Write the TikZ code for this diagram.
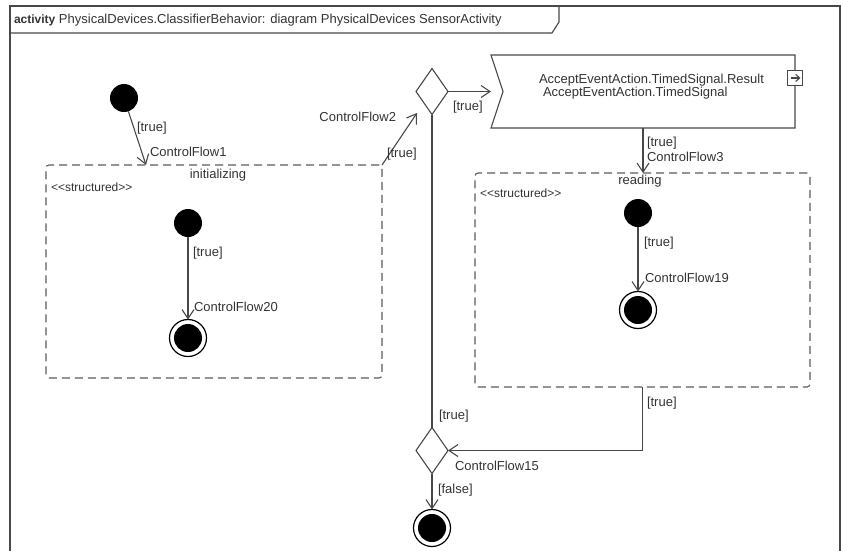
\documentclass[tikz,border=0pt]{standalone}
\usepackage{fontspec}
\setmainfont{Liberation Sans}
\newfontfamily\rawsans{Liberation Sans}
\usetikzlibrary{shapes.geometric,arrows.meta}
\definecolor{ln}{HTML}{484848}
\definecolor{dl}{HTML}{5A5A5A}
\definecolor{tx}{HTML}{333333}
\begin{document}
\begin{tikzpicture}[x=1pt,y=-1pt,
  every node/.style={inner sep=0pt, outer sep=0pt},
  lbl/.style={text=tx, font=\fontsize{13}{15}\selectfont, anchor=west},
  stereo/.style={text=tx, font=\rawsans\fontsize{12}{14}\selectfont, anchor=west},
  ctr/.style={text=tx, font=\fontsize{13}{15}\selectfont},
  initnode/.style={circle, fill=black, minimum size=28pt},
  finalnode/.style={circle, draw=black, line width=1.2pt, minimum size=37pt,
    path picture={\fill[black] (path picture bounding box.center) circle (14pt);}},
  decision/.style={diamond, draw=ln, line width=1.1pt, minimum width=32pt, minimum height=46pt},
  region/.style={draw=dl, line width=1.1pt, dash pattern=on 8pt off 5pt, rounded corners=3pt},
  flow/.style={draw=ln, line width=1.1pt, -{Straight Barb[length=9pt,width=12pt]}},
  plain/.style={draw=ln, line width=1.1pt}
]
\useasboundingbox (0,0) rectangle (841,550);
\clip (0,0) rectangle (841,550);

% frame
\draw[ln, line width=1.3pt] (10,570) -- (10,6) -- (840,6) -- (840,570);
\draw[ln, line width=1.1pt] (10,33) -- (552,33) -- (559,22) -- (559,6);
\node[lbl] (title) at (14,20) {{\bfseries\fontsize{12}{14}\selectfont activity} PhysicalDevices.ClassifierBehavior: diagram PhysicalDevices SensorActivity};

% structured regions
\node[region, minimum width=336pt, minimum height=213pt] (initbox) at (214,271.5) {};
\node[ctr] (initname) at (218,175) {initializing};
\node[stereo] (initst) at (51,187) {<<structured>>};

\node[region, minimum width=335pt, minimum height=214pt] (readbox) at (642.5,280) {};
\node[ctr] (readname) at (640,181) {reading};
\node[stereo] (readst) at (480,193) {<<structured>>};

% nodes
\node[initnode] (init1) at (124,98) {};
\node[initnode] (init2) at (188,223) {};
\node[finalnode] (final2) at (188,338) {};
\node[initnode] (init3) at (638,213) {};
\node[finalnode] (final3) at (638,310) {};
\node[decision] (d1) at (432,91.5) {};
\node[decision] (d2) at (432,450.5) {};
\node[finalnode] (final4) at (432,528) {};

% accept event action
\node[minimum width=304pt, minimum height=73pt] (accept) at (643,91.5) {};
\draw[plain] (accept.north west) -- (accept.north east) -- (accept.south east) -- (accept.south west) -- ([xshift=12pt]accept.west) -- cycle;
\node[lbl] (acc1) at (539,80) {AcceptEventAction.TimedSignal.Result};
\node[lbl] (acc2) at (543,93) {AcceptEventAction.TimedSignal};
\node[draw=ln, fill=white, line width=1.1pt, minimum size=15pt] (sigicon) at (795,78) {};
\draw[ln, line width=1.1pt, -{Straight Barb[length=4pt,width=7pt]}] ([xshift=3pt]sigicon.west) -- ([xshift=-2pt]sigicon.east);

% connectors
\coordinate (c1) at (146,165);
\coordinate (c2) at (417,113);
\draw[flow] (init1) -- (c1);
\draw[flow] (initbox.north east) -- (c2);
\draw[flow] (d1.east) -- (accept.west);
\draw[plain] (d1.south) -- (d2.north);
\draw[flow] (accept.south) -- (accept.south |- readbox.north);
\draw[flow] (readbox.south) |- (d2.east);
\draw[flow] (d2.south) -- (final4);
\draw[flow] (init2) -- (final2);
\draw[flow] (init3) -- (final3);

% labels
\node[lbl] (t1) at (137,128) {[true]};
\node[lbl] (cf1) at (150,152) {ControlFlow1};
\node[lbl, anchor=east] (cf2) at (396,117) {ControlFlow2};
\node[lbl] (t2) at (387,154) {[true]};
\node[lbl] (t3) at (453,107) {[true]};
\node[lbl] (t4) at (647,143) {[true]};
\node[lbl] (cf3) at (647,157) {ControlFlow3};
\node[lbl] (t5) at (193,253) {[true]};
\node[lbl] (cf20) at (194,307) {ControlFlow20};
\node[lbl] (t6) at (644,243) {[true]};
\node[lbl] (cf19) at (645,278) {ControlFlow19};
\node[lbl] (t7) at (439,416) {[true]};
\node[lbl] (t8) at (647,403) {[true]};
\node[lbl] (cf15) at (455,466) {ControlFlow15};
\node[lbl] (f1) at (438,490) {[false]};
\end{tikzpicture}
\end{document}
